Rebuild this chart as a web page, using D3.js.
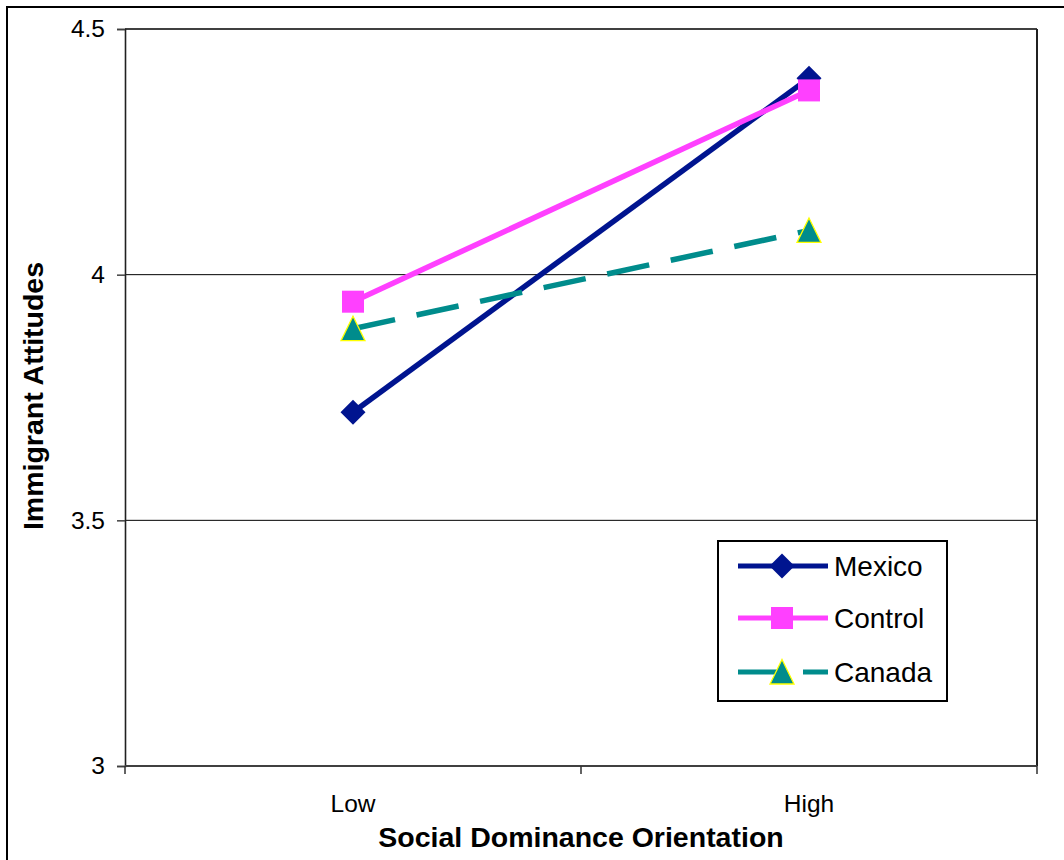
<!DOCTYPE html>
<html>
<head>
<meta charset="utf-8">
<script src="https://cdn.jsdelivr.net/npm/d3@7"></script>
<style>
  html, body { margin: 0; padding: 0; background: #fff; }
  svg { display: block; font-family: "Liberation Sans", Arial, sans-serif; }
</style>
</head>
<body>
<svg id="chart" width="1064" height="860"></svg>
<script>
// Social dominance orientation levels on the x axis
const categories = ["Low", "High"];

// Mean immigrant attitude scores per condition
const mexico  = [3.72, 4.40];
const control = [3.945, 4.375];
const canada  = [3.89, 4.09];

const seriesNames = ["Mexico", "Control", "Canada"];
const yTicks = [3, 3.5, 4, 4.5];
const yTickLabels = ["3", "3.5", "4", "4.5"];

const series = [
  { name: seriesNames[0], values: mexico,  color: "#00148f", marker: "diamond",  dash: null },
  { name: seriesNames[1], values: control, color: "#ff40ff", marker: "square",   dash: null },
  { name: seriesNames[2], values: canada,  color: "#008c8c", marker: "triangle", dash: "43,22" }
];

const svg = d3.select("#chart");
const plot = { left: 125, right: 1037, top: 29, bottom: 766 };

// Outer chart frame (runs past the right and bottom edges)
svg.append("rect")
  .attr("x", 7).attr("y", 7)
  .attr("width", 1100).attr("height", 900)
  .attr("fill", "#fff").attr("stroke", "#000").attr("stroke-width", 2);

const x = d3.scaleBand().domain(categories).range([plot.left, plot.right]);
const y = d3.scaleLinear().domain([3, 4.5]).range([plot.bottom, plot.top]);

// Horizontal gridlines
svg.append("g").selectAll("line")
  .data(yTicks.filter(t => t > 3 && t < 4.5))
  .join("line")
  .attr("x1", plot.left).attr("x2", plot.right)
  .attr("y1", d => y(d)).attr("y2", d => y(d))
  .attr("stroke", "#000").attr("stroke-width", 1);

// Top gridline and right edge of the plot area
svg.append("line")
  .attr("x1", plot.left).attr("x2", plot.right)
  .attr("y1", y(4.5)).attr("y2", y(4.5))
  .attr("stroke", "#404040").attr("stroke-width", 2);
svg.append("line")
  .attr("x1", plot.right).attr("x2", plot.right)
  .attr("y1", plot.top).attr("y2", plot.bottom)
  .attr("stroke", "#202020").attr("stroke-width", 2);

// Y axis
const yAxis = svg.append("g")
  .attr("transform", `translate(${plot.left},0)`)
  .call(d3.axisLeft(y).tickValues(yTicks)
    .tickFormat((d, i) => yTickLabels[i])
    .tickSize(8).tickPadding(12));
yAxis.select(".domain").attr("stroke", "#202020").attr("stroke-width", 1.6);
yAxis.selectAll(".tick line").attr("stroke", "#404040").attr("stroke-width", 1.5);
yAxis.selectAll(".tick text")
  .attr("font-size", 24.5).attr("fill", "#000")
  .attr("font-family", "Liberation Sans, Arial, sans-serif");

// X axis: tick marks sit on the category boundaries
const xAxis = svg.append("g")
  .attr("transform", `translate(0,${plot.bottom})`);
xAxis.append("line")
  .attr("x1", plot.left).attr("x2", plot.right)
  .attr("stroke", "#404040").attr("stroke-width", 2);
const boundaries = [plot.left, x(categories[1]), plot.right];
xAxis.selectAll("line.tk")
  .data(boundaries).join("line").attr("class", "tk")
  .attr("x1", d => d).attr("x2", d => d)
  .attr("y1", 0).attr("y2", 8)
  .attr("stroke", "#303030").attr("stroke-width", 1.5);
xAxis.selectAll("text")
  .data(categories).join("text")
  .attr("x", d => x(d) + x.bandwidth() / 2)
  .attr("y", 46)
  .attr("text-anchor", "middle")
  .attr("font-size", 24.5)
  .text(d => d);

// Axis titles
svg.append("text")
  .attr("x", (plot.left + plot.right) / 2).attr("y", 847)
  .attr("text-anchor", "middle")
  .attr("font-size", 28.5).attr("font-weight", "bold")
  .text("Social Dominance Orientation");
svg.append("text")
  .attr("transform", "translate(43,396) rotate(-90)")
  .attr("text-anchor", "middle")
  .attr("font-size", 28.5).attr("font-weight", "bold")
  .text("Immigrant Attitudes");

// Marker shapes
function drawMarker(g, type, cx, cy, color) {
  if (type === "diamond") {
    g.append("path")
      .attr("d", `M${cx},${cy - 12.5}L${cx + 12.5},${cy}L${cx},${cy + 12.5}L${cx - 12.5},${cy}Z`)
      .attr("fill", color);
  } else if (type === "square") {
    g.append("rect")
      .attr("x", cx - 11).attr("y", cy - 11)
      .attr("width", 22).attr("height", 22)
      .attr("fill", color);
  } else {
    g.append("path")
      .attr("d", `M${cx},${cy - 12.5}L${cx + 12},${cy + 12}L${cx - 12},${cy + 12}Z`)
      .attr("fill", color).attr("stroke", "#ffff00").attr("stroke-width", 1.3);
  }
}

const cx = c => x(c) + x.bandwidth() / 2;
const line = d3.line().x((d, i) => cx(categories[i])).y(d => y(d));

// Series lines first, markers on top
const linesG = svg.append("g");
series.forEach(s => {
  linesG.append("path")
    .attr("d", line(s.values))
    .attr("fill", "none")
    .attr("stroke", s.color)
    .attr("stroke-width", 5.5)
    .attr("stroke-dasharray", s.dash);
});
const markersG = svg.append("g");
series.forEach(s => {
  s.values.forEach((v, i) => drawMarker(markersG, s.marker, cx(categories[i]), y(v), s.color));
});

// Legend
const legend = svg.append("g");
legend.append("rect")
  .attr("x", 718).attr("y", 541)
  .attr("width", 229).attr("height", 160)
  .attr("fill", "#fff").attr("stroke", "#000").attr("stroke-width", 2);
const legendRows = [566, 618, 672];
series.forEach((s, i) => {
  const ly = legendRows[i];
  legend.append("line")
    .attr("x1", 738).attr("x2", 828)
    .attr("y1", ly).attr("y2", ly)
    .attr("stroke", s.color).attr("stroke-width", 5)
    .attr("stroke-dasharray", s.dash);
  drawMarker(legend, s.marker, 782, ly, s.color);
  legend.append("text")
    .attr("x", 834).attr("y", ly + 10)
    .attr("font-size", 28)
    .text(s.name);
});
</script>
</body>
</html>
